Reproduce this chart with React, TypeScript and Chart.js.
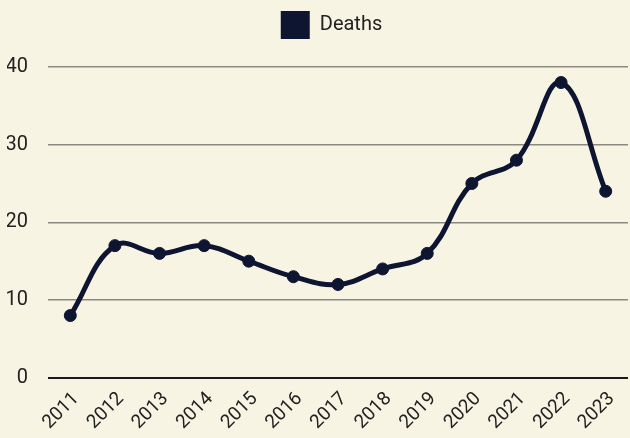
import React, { useEffect, useRef } from "react";
import { Chart, registerables } from "chart.js";

Chart.register(...registerables);

const years = ["2011", "2012", "2013", "2014", "2015", "2016", "2017", "2018", "2019", "2020", "2021", "2022", "2023"];
const deaths = [8, 17, 16, 17, 15, 13, 12, 14, 16, 25, 28, 38, 24];
const seriesLabel = "Deaths";

const INK = "#0d1530";
const TEXT = "#222222";
const FONT = "Roboto, 'Noto Sans', sans-serif";

const legendSpacing = {
  id: "legendSpacing",
  beforeInit(chart: any) {
    const legend = chart.legend;
    if (!legend) return;
    const origFit = legend.fit;
    legend.fit = function () {
      origFit.call(this);
      this.height += 18;
    };
  },
  afterLayout(chart: any) {
    if (chart.legend) chart.legend.left += 21;
  },
};

export default function App() {
  const ref = useRef<HTMLCanvasElement | null>(null);

  useEffect(() => {
    document.body.style.margin = "0";
    const ctx = ref.current;
    if (!ctx) return;
    const chart = new Chart(ctx, {
      type: "line",
      plugins: [legendSpacing],
      data: {
        labels: years,
        datasets: [
          {
            label: seriesLabel,
            data: deaths,
            borderColor: INK,
            backgroundColor: INK,
            borderWidth: 5,
            tension: 0.4,
            pointRadius: 6,
            pointBorderWidth: 1,
            pointBackgroundColor: INK,
            pointBorderColor: INK,
          },
        ],
      },
      options: {
        animation: false,
        responsive: true,
        maintainAspectRatio: false,
        layout: { padding: { left: 7, right: 0, top: 1, bottom: 2 } },
        plugins: {
          tooltip: { enabled: false },
          legend: {
            display: true,
            position: "top",
            labels: {
              boxWidth: 29,
              boxHeight: 28,
              color: TEXT,
              font: { family: FONT, size: 20 },
              padding: 10,
              generateLabels: (c: any) =>
                Chart.defaults.plugins.legend.labels.generateLabels(c).map((l: any) => ({ ...l, lineWidth: 0 })),
            },
          },
        },
        scales: {
          x: {
            offset: true,
            grid: { display: false },
            border: { display: false },
            afterFit: (s: any) => {
              s.paddingLeft = 0;
              s.paddingRight = 0;
            },
            ticks: {
              color: TEXT,
              font: { family: FONT, size: 19 },
              maxRotation: 45,
              minRotation: 45,
              autoSkip: false,
              padding: 2,
              labelOffset: 6,
            },
          },
          y: {
            min: 0,
            max: 40,
            border: { display: false },
            afterFit: (s: any) => {
              s.width = 41;
            },
            grid: {
              drawTicks: false,
              color: (c: any) => (c.tick && c.tick.value === 0 ? "#1a1a1a" : "#8c8a80"),
              lineWidth: (c: any) => (c.tick && c.tick.value === 0 ? 2 : 1.5),
            },
            ticks: {
              stepSize: 10,
              color: TEXT,
              font: { family: FONT, size: 20 },
              padding: 20,
            },
          },
        },
      },
    });
    return () => chart.destroy();
  }, []);

  return (
    <div style={{ position: "relative", width: 630, height: 438, overflow: "hidden", background: "#f7f4e4" }}>
      <div style={{ position: "absolute", left: 0, top: 0, width: 635, height: 438 }}>
        <canvas ref={ref} />
      </div>
    </div>
  );
}
